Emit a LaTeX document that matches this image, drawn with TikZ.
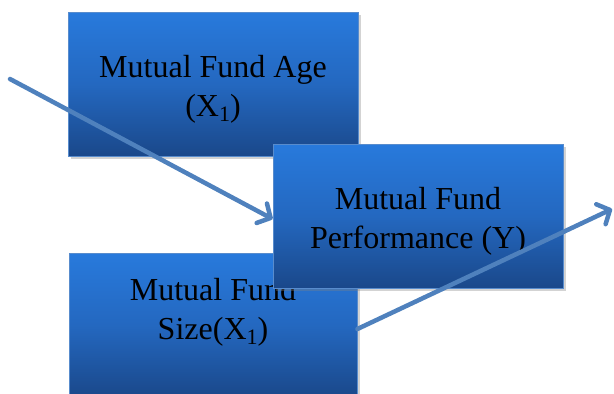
\documentclass[tikz,border=0pt]{standalone}
\usepackage{fontspec}
\setmainfont{Liberation Serif}
\usetikzlibrary{arrows.meta,shadows}
\definecolor{boxtop}{RGB}{40,122,220}
\definecolor{boxmid}{RGB}{36,104,192}
\definecolor{boxbot}{RGB}{26,72,138}
\definecolor{boxedge}{RGB}{88,140,205}
\definecolor{linkblue}{RGB}{79,129,189}
\newcommand\subone{\raisebox{-0.18em}{\fontsize{22}{22}\selectfont 1}}
\tikzset{
  fundbox/.style={rectangle, draw=boxedge, line width=0.8pt,
    top color=boxtop, bottom color=boxbot, middle color=boxmid,
    minimum width=290pt, minimum height=144pt, inner sep=0pt,
    drop shadow={opacity=0.35, shadow xshift=3pt, shadow yshift=-3pt}},
  boxtext/.style={align=center, inner sep=0pt, font=\fontsize{32}{39}\selectfont},
  link/.style={draw=linkblue, line width=4.5pt, line cap=round,
    -{Straight Barb[length=10pt, width=22pt, round]}}
}
\begin{document}
\begin{tikzpicture}[x=1pt, y=-1pt]
  \useasboundingbox (0,0) rectangle (614,394);
  % the three variable boxes, each with its caption
  \node[fundbox] (age) at (213,84) {};
  \node[boxtext] (agetext) at (213,89) {Mutual Fund Age\\(X\subone)};
  \node[fundbox, minimum width=288pt] (size) at (213,325) {};
  \node[boxtext] (sizetext) at (213,312) {Mutual Fund\\Size(X\subone)};
  \node[fundbox] (perf) at (418,216) {};
  \node[boxtext] (perftext) at (418,221) {Mutual Fund\\Performance (Y)};
  % connectors
  \coordinate (from) at (10,79);
  \coordinate (to) at (612,209);
  \draw[link] (from) -- (perf.west |- 0,219);
  \draw[link] (size.east |- 0,329) -- (to);
\end{tikzpicture}
\end{document}
